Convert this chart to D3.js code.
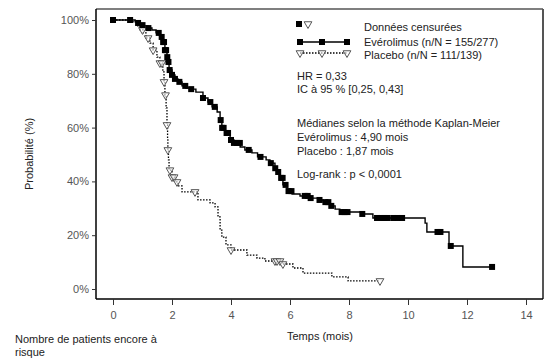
<!DOCTYPE html>
<html lang="fr">
<head>
<meta charset="UTF-8">
<title>Kaplan-Meier</title>
<style>
  body { margin: 0; background: #fff; }
  svg text { font-family: "Liberation Sans", Arial, sans-serif; }
</style>
</head>
<body>
<div class="chart"></div>
<script src="https://d3js.org/d3.v7.min.js"></script>
<script>
// Evérolimus : temps des chutes (mois) et survie (%) après la chute
const everoTimes = [0, 0.75, 0.81, 0.92, 1.05, 1.19, 1.32, 1.46, 1.59, 1.69, 1.76, 1.83, 1.86, 1.90,
  2.00, 2.10, 2.20, 2.34, 2.47, 2.61, 2.81, 3.05, 3.22, 3.36, 3.53, 3.63, 3.69, 3.80, 3.97,
  4.10, 4.31, 4.47, 4.71, 4.90, 5.19, 5.32, 5.49, 5.56, 5.66, 5.76, 5.90, 6.07, 6.34, 6.68,
  6.95, 7.12, 7.36, 7.53, 7.69, 8.44, 8.81, 10.58, 10.64, 11.39, 11.86];
const everoSurv = [100, 99.3, 98.9, 98.1, 97.8, 97.0, 96.3, 95.2, 93.7, 91.8, 88.8, 86.2, 84.4, 81.4,
  79.6, 78.1, 77.0, 75.5, 74.7, 74.3, 73.2, 71.0, 69.5, 67.7, 65.8, 62.8, 59.9, 58.0, 55.4,
  54.3, 52.8, 51.7, 50.6, 49.1, 48.0, 46.8, 44.9, 43.5, 41.3, 38.7, 36.4, 35.3, 34.6, 33.8,
  33.1, 32.3, 30.9, 29.7, 28.6, 27.9, 26.4, 24.5, 21.2, 16.0, 8.2];
const everoEnd = 12.85;
const everoCensor = [0, 0.58, 0.85, 1.0, 1.2, 1.55, 1.65, 1.7, 1.73, 1.76, 1.8, 1.84, 1.88, 1.92, 2.0,
  2.1, 2.25, 2.45, 2.65, 3.05, 3.3, 3.45, 3.65, 3.7, 3.75, 3.85, 3.9, 4.0, 4.1, 4.2, 4.3, 4.6,
  5.0, 5.35, 5.5, 5.6, 5.7, 5.75, 5.85, 5.95, 6.05, 6.5, 6.6, 6.7, 7.0, 7.2, 7.3, 7.4, 7.75,
  7.85, 7.95, 8.45, 8.95, 9.1, 9.2, 9.3, 9.5, 9.65, 9.8, 11.0, 11.1, 11.45, 12.85];

// Placebo
const placTimes = [0, 0.68, 0.81, 0.92, 1.02, 1.12, 1.25, 1.36, 1.49, 1.59, 1.69, 1.73, 1.76, 1.80,
  1.83, 1.85, 1.86, 1.88, 1.90, 2.00, 2.10, 2.20, 2.34, 2.88, 3.29, 3.46, 3.56, 3.63, 3.69,
  3.83, 4.00, 4.54, 4.88, 5.15, 5.73, 6.10, 6.44, 7.42, 7.97];
const placSurv = [100, 99.3, 97.8, 96.3, 95.2, 93.3, 91.4, 88.8, 86.2, 84.0, 80.7, 77.0, 72.1, 67.3,
  61.0, 56.1, 51.7, 48.0, 44.2, 41.6, 39.8, 38.3, 36.1, 33.1, 32.0, 30.5, 26.8, 21.9, 19.3,
  16.4, 14.5, 12.6, 11.5, 10.4, 9.3, 7.8, 5.9, 4.5, 3.0];
const placEnd = 9.05;
const placCensor = [1.0, 1.19, 1.36, 1.59, 1.66, 1.73, 1.78, 1.83, 1.86, 1.93, 2.0, 2.07, 2.17,
  2.78, 4.0, 5.49, 5.56, 5.66, 5.76, 9.05];

const xTicks = [0, 2, 4, 6, 8, 10, 12, 14];
const yTicks = [0, 20, 40, 60, 80, 100];

const width = 553, height = 359;
const frame = { left: 96, right: 543, top: 9, bottom: 299 };

const svg = d3.select('.chart').append('svg')
  .attr('width', width).attr('height', height);

const x = d3.scaleLinear().domain([0, 14]).range([113, 526]);
const y = d3.scaleLinear().domain([0, 100]).range([289, 20]);

// cadre
svg.append('line').attr('x1', frame.left).attr('x2', frame.right)
  .attr('y1', frame.top).attr('y2', frame.top).attr('stroke', '#555').attr('stroke-width', 1.5);
svg.append('line').attr('x1', frame.right).attr('x2', frame.right)
  .attr('y1', frame.top).attr('y2', frame.bottom).attr('stroke', '#555').attr('stroke-width', 2);

const xAxis = svg.append('g')
  .attr('transform', `translate(0,${frame.bottom})`)
  .call(d3.axisBottom(x).tickValues(xTicks).tickSize(6).tickPadding(6).tickSizeOuter(0));
xAxis.select('.domain').attr('d', `M${frame.left},0H${frame.right}`).attr('stroke', '#000').attr('stroke-width', 1.5);

const yAxis = svg.append('g')
  .attr('transform', `translate(${frame.left},0)`)
  .call(d3.axisLeft(y).tickValues(yTicks).tickSize(4).tickPadding(3).tickFormat(d => d + '%'));
yAxis.select('.domain').attr('d', `M0,${frame.top}V${frame.bottom}`).attr('stroke', '#000').attr('stroke-width', 1.5);

svg.selectAll('.tick text').attr('fill', '#555').attr('font-size', 11)
  .attr('font-family', '"Liberation Sans", Arial, sans-serif');
svg.selectAll('.tick line').attr('stroke', '#333');

// titres
svg.append('text').attr('x', 320).attr('y', 340).attr('text-anchor', 'middle')
  .attr('font-size', 11).attr('fill', '#222').text('Temps (mois)');
svg.append('text').attr('transform', 'translate(33,154) rotate(-90)').attr('text-anchor', 'middle')
  .attr('font-size', 11).attr('fill', '#222').text('Probabilité (%)');
svg.append('text').attr('x', 15).attr('y', 343).attr('font-size', 11).attr('fill', '#222')
  .text('Nombre de patients encore à');
svg.append('text').attr('x', 15).attr('y', 356).attr('font-size', 11).attr('fill', '#222')
  .text('risque');

// courbes
function points(times, surv, end) {
  const pts = times.map((t, i) => [t, surv[i]]);
  pts.push([end, surv[surv.length - 1]]);
  return pts;
}
function survAt(times, surv, t) {
  const i = d3.bisectRight(times, t) - 1;
  return surv[Math.max(0, i)];
}
const stepLine = d3.line().x(d => x(d[0])).y(d => y(d[1])).curve(d3.curveStepAfter);

svg.append('path').attr('d', stepLine(points(placTimes, placSurv, placEnd)))
  .attr('fill', 'none').attr('stroke', '#000').attr('stroke-width', 1.3)
  .attr('stroke-dasharray', '1.5,1.5');
svg.append('path').attr('d', stepLine(points(everoTimes, everoSurv, everoEnd)))
  .attr('fill', 'none').attr('stroke', '#000').attr('stroke-width', 1.4);

const tri = d3.symbol().type(d3.symbolTriangle).size(26);
function triangle(g, cx, cy) {
  g.append('path').attr('d', tri()).attr('transform', `translate(${cx},${cy}) rotate(180)`)
    .attr('fill', '#fff').attr('fill-opacity', 0.6).attr('stroke', '#555').attr('stroke-width', 1);
}
function square(g, cx, cy) {
  g.append('rect').attr('x', cx - 3).attr('y', cy - 3).attr('width', 6).attr('height', 6)
    .attr('fill', '#000');
}

const marks = svg.append('g');
placCensor.forEach(t => triangle(marks, x(t), y(survAt(placTimes, placSurv, t))));
everoCensor.forEach(t => square(marks, x(t), y(survAt(everoTimes, everoSurv, t))));

// légende
const lg = svg.append('g');
square(lg, 299, 24);
triangle(lg, 308, 24);
lg.append('line').attr('x1', 300).attr('x2', 347).attr('y1', 42).attr('y2', 42)
  .attr('stroke', '#000').attr('stroke-width', 1.3);
[300, 322, 347].forEach(cx => square(lg, cx, 42));
lg.append('line').attr('x1', 300).attr('x2', 347).attr('y1', 53).attr('y2', 53)
  .attr('stroke', '#000').attr('stroke-width', 1.3).attr('stroke-dasharray', '1.5,1.5');
[300, 322, 347].forEach(cx => triangle(lg, cx, 53));

const legendText = [
  ['Données censurées', 364, 31],
  ['Evérolimus (n/N = 155/277)', 364, 46],
  ['Placebo (n/N = 111/139)', 364, 59],
  ['HR = 0,33', 297, 80],
  ['IC à 95 % [0,25, 0,43]', 297, 93],
  ['Médianes selon la méthode Kaplan‑Meier', 297, 127],
  ['Evérolimus : 4,90 mois', 297, 141],
  ['Placebo : 1,87 mois', 297, 155],
  ['Log‑rank : p < 0,0001', 297, 178]
];
lg.selectAll('text.leg').data(legendText).join('text')
  .attr('class', 'leg')
  .attr('x', d => d[1]).attr('y', d => d[2])
  .attr('font-size', 11).attr('fill', '#222')
  .text(d => d[0]);
</script>
</body>
</html>
